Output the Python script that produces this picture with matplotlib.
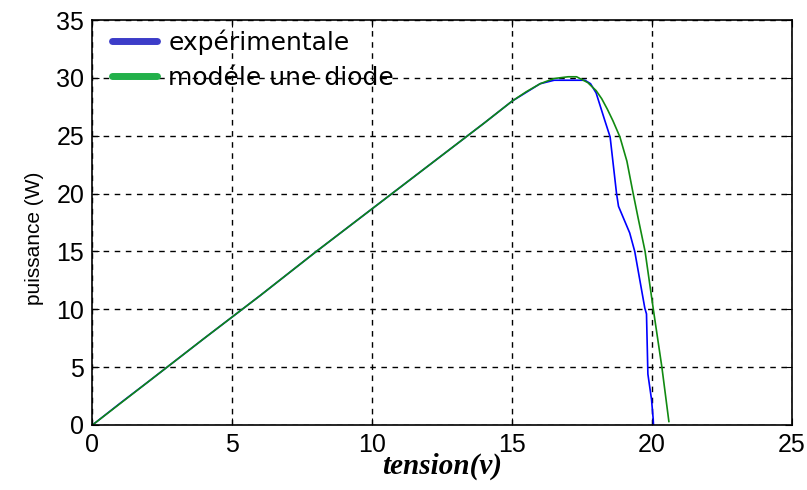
import matplotlib
matplotlib.use("Agg")
import matplotlib.pyplot as plt
from matplotlib.lines import Line2D

# courbe P-V : mesure et modèle à une diode
exp_v = [0, 1, 2, 4, 6, 8, 10, 12, 14, 15, 16, 16.5, 16.9, 17.6, 17.8, 18.0, 18.3,
         18.5, 18.73, 18.8, 19.2, 19.38, 19.74, 19.8, 19.85, 19.98, 20.04, 20.05]
exp_p = [0, 1.9, 3.75, 7.5, 11.2, 15.0, 18.7, 22.4, 26.1, 28.0, 29.5, 29.8, 29.8,
         29.8, 29.5, 28.7, 26.4, 24.9, 20.0, 18.9, 16.6, 15.0, 10.1, 9.6, 4.4, 2.2,
         0.5, 0]

mod_v = [0, 2, 4, 6, 8, 10, 12, 14, 15, 15.5, 16, 16.5, 17, 17.3, 17.7, 18.0, 18.2,
         18.4, 18.6, 18.85, 19.1, 19.3, 19.5, 19.75, 20.05, 20.35, 20.6]
mod_p = [0, 3.75, 7.5, 11.2, 15.0, 18.7, 22.4, 26.1, 28.0, 28.8, 29.5, 29.95, 30.1,
         30.1, 29.6, 28.9, 28.2, 27.3, 26.3, 24.9, 22.8, 20.3, 17.9, 15.0, 9.9, 5.0,
         0.3]

labels = ["expérimentale", "modéle une diode"]

fig = plt.figure(figsize=(8.07, 4.90), dpi=100)
ax = fig.add_axes([0.1146, 0.1327, 0.8668, 0.8263])

ax.plot(exp_v, exp_p, color="#0000ff", lw=1.2)
ax.plot(mod_v, mod_p, color="#118a11", lw=1.2)

ax.set_xlim(0, 25)
ax.set_ylim(0, 35)
ax.set_xticks(range(0, 26, 5))
ax.set_yticks(range(0, 36, 5))
ax.grid(True, color="black", linestyle=(0, (4, 4)), lw=1)
ax.tick_params(direction="in", top=True, right=True, length=5, labelsize=18, pad=6)
for lab in ax.get_xticklabels() + ax.get_yticklabels():
    lab.set_family("Liberation Sans")
for s in ax.spines.values():
    s.set_linewidth(1.2)

ax.set_xlabel("tension(v)", family="Liberation Serif", style="italic",
              weight="bold", fontsize=21, labelpad=-3)
ax.set_ylabel("puissance (W)", family="Liberation Sans", fontsize=15)
ax.yaxis.set_label_coords(-0.07, 0.46)

handles = [Line2D([], [], color="#3c3cc8", lw=5, solid_capstyle="round"),
           Line2D([], [], color="#22b04a", lw=5, solid_capstyle="round")]
ax.legend(handles, labels, loc="upper left", bbox_to_anchor=(0.026, 0.98),
          frameon=False, handlelength=1.8, handletextpad=0.45, labelspacing=0.45,
          borderpad=0.05, borderaxespad=0,
          prop={"family": "DejaVu Sans", "size": 18})

fig.savefig("out.png", dpi=100)
